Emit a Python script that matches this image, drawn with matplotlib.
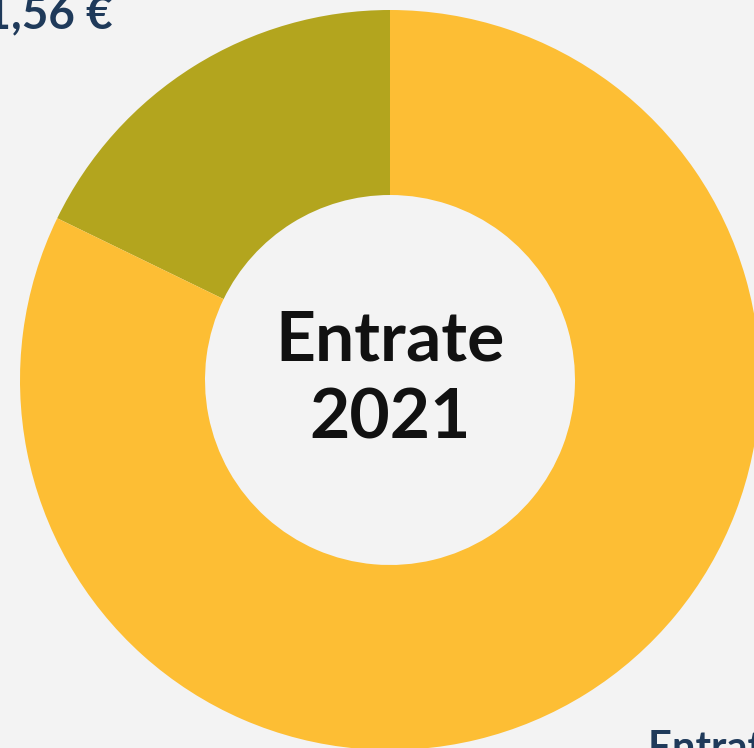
import matplotlib
matplotlib.use("Agg")
import matplotlib.pyplot as plt

categories = ["Entrate ordinarie", "Altre entrate"]
values = [82.2, 17.8]
colors = ["#FDBE34", "#B3A51E"]
label_top = "12.341,56 €"
label_bottom = "Entrate ordinarie"
center_text = "Entrate\n2021"

W, H = 754, 748
cx, cy, R = 390, 380, 370

fig = plt.figure(figsize=(W / 100, H / 100), dpi=100, facecolor="#F3F3F3")
ax = fig.add_axes([0, 0, 1, 1])
ax.set_facecolor("#F3F3F3")

ax.pie(values[::-1], colors=colors[::-1], startangle=90, counterclock=True,
       radius=1.0, wedgeprops=dict(width=0.5, edgecolor="none"))
ax.set_xlim(-cx / R, (W - cx) / R)
ax.set_ylim(-(H - cy) / R, cy / R)
ax.set_aspect("equal")
ax.axis("off")

def px(x, y):
    return (x - cx) / R, (cy - y) / R

ax.text(0, 0.0, center_text, ha="center", va="center", fontsize=50,
        fontweight="bold", family="Lato", color="#111111", linespacing=1.3)

x, y = px(113, 28)
ax.text(x, y, label_top, ha="right", va="baseline", fontsize=33,
        fontweight="bold", family="Lato", color="#1F3A5A", clip_on=False)
x, y = px(648, 761)
ax.text(x, y, label_bottom, ha="left", va="baseline", fontsize=30,
        fontweight="bold", family="Lato", color="#1F3A5A", clip_on=False)

fig.savefig("out.png", dpi=100, facecolor="#F3F3F3")
